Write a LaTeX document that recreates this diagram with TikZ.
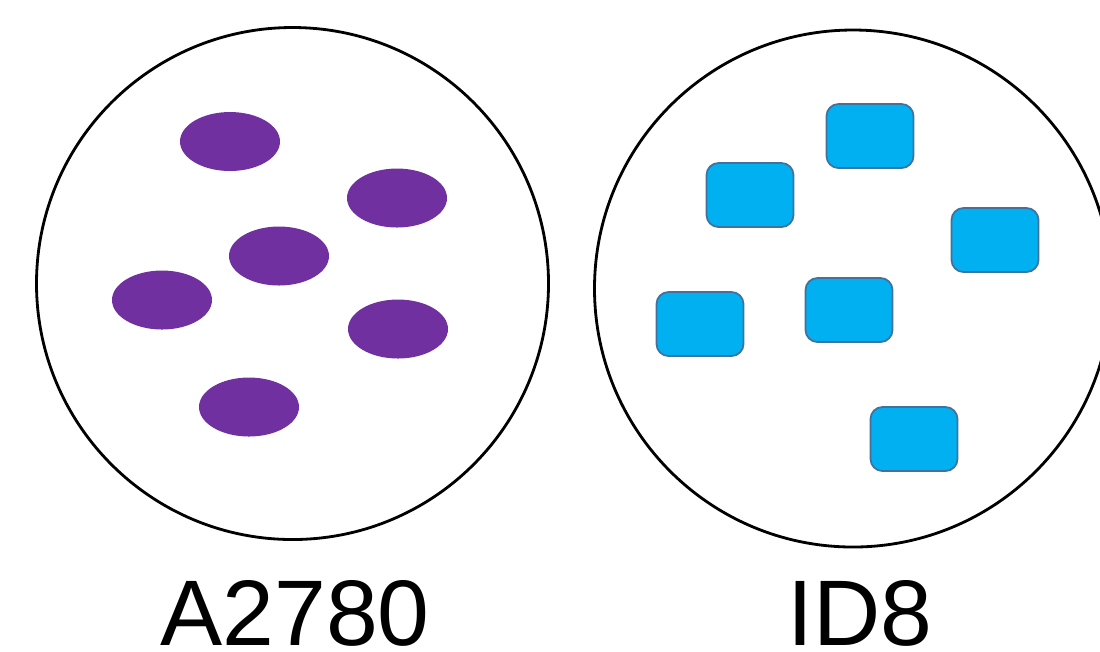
\documentclass[tikz,border=0pt]{standalone}
\usepackage{fontspec}
\usepackage{xcolor}
\usetikzlibrary{shapes.geometric}
\newfontfamily\labelfont{Liberation Sans}
\definecolor{cellpurple}{HTML}{7030A0}
\definecolor{cellblue}{HTML}{00B0F0}
\definecolor{cellrim}{HTML}{41719C}

\begin{document}
\begin{tikzpicture}[
        dish/.style={circle, draw=black, line width=0.8pt, minimum size=#1, inner sep=0pt},
        roundcell/.style={ellipse, fill=cellpurple, minimum width=1cm, minimum height=0.59cm, inner sep=0pt},
        boxcell/.style={rectangle, rounded corners=0.12cm, fill=cellblue, draw=cellrim, line width=0.5pt, minimum width=0.87cm, minimum height=0.64cm, inner sep=0pt},
        dishlabel/.style={anchor=base, inner sep=0pt, text depth=0pt, font=\labelfont\fontsize{26.5}{32}\selectfont}
]
        \clip (0,0) rectangle (11,-6.51);
        \node[dish=5.12cm](left) at (2.925,-2.835) {};
        \node[dish=5.17cm](right) at (8.53,-2.885) {};
        \node[roundcell](a) at (2.30,-1.415) {};
        \node[roundcell](b) at (3.97,-1.98) {};
        \node[roundcell](c) at (2.79,-2.56) {};
        \node[roundcell](d) at (1.62,-3.00) {};
        \node[roundcell](e) at (3.98,-3.29) {};
        \node[roundcell](f) at (2.49,-4.07) {};
        \node[boxcell](p) at (8.70,-1.36) {};
        \node[boxcell](q) at (7.50,-1.95) {};
        \node[boxcell](r) at (9.95,-2.40) {};
        \node[boxcell](s) at (7.00,-3.24) {};
        \node[boxcell](t) at (8.49,-3.10) {};
        \node[boxcell](u) at (9.14,-4.39) {};
        \node[dishlabel](lefttext) at (2.95,-6.45) {A2780};
        \node[dishlabel](righttext) at (8.60,-6.45) {ID8};
\end{tikzpicture}
\end{document}
